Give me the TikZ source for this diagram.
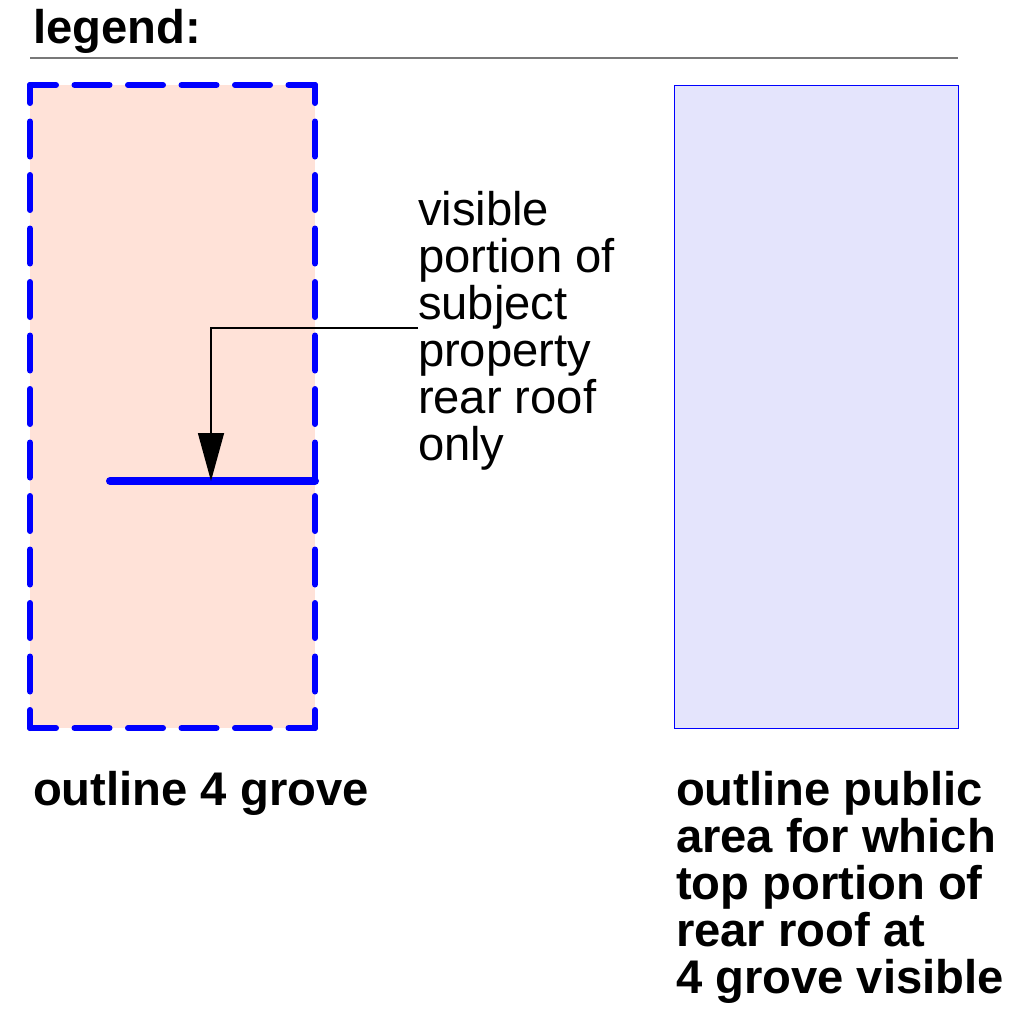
\documentclass[tikz,border=0pt]{standalone}
\usepackage{fontspec}
\setmainfont{Liberation Sans}
\usetikzlibrary{arrows.meta, positioning}

\definecolor{grovefill}{RGB}{255,226,216}
\definecolor{publicfill}{RGB}{228,228,252}
\definecolor{rulegray}{RGB}{120,120,120}

\begin{document}
\begin{tikzpicture}[x=0.5pt, y=-0.5pt,
	every node/.style={font=\fontsize{23.6}{23.5}\selectfont, inner sep=0pt, outer sep=0pt, align=left},
	heading/.style={font=\fontsize{23.6}{23.5}\selectfont\bfseries},
	grovebox/.style={fill=grovefill, minimum width=142.5pt, minimum height=321.5pt, anchor=north west},
	groveedge/.style={blue, line width=3pt, line cap=round, dash pattern=on 17.5pt off 9.25pt},
	publicbox/.style={draw=blue, fill=publicfill, line width=0.5pt, minimum width=142pt, minimum height=321.5pt, anchor=north west},
	roofline/.style={blue, line width=4pt, line cap=round},
	pointer/.style={-{Triangle[length=24pt, width=13pt]}, line width=0.75pt}
	]
	\useasboundingbox (0,0) rectangle (1018,1013);
	
	% Title and rule
	\node[heading, anchor=base west] (legend) at (33,43) {legend:};
	\coordinate (ruleleft) at (30,58);
	\coordinate (ruleright) at (958,58);
	\draw[rulegray, line width=0.75pt] (ruleleft) -- (ruleright);
	
	% Boxes
	\node[grovebox] (grove) at (30,85) {};
	\draw[groveedge, dash phase=4.5pt] (grove.north west) -- (grove.north east);
	\draw[groveedge, dash phase=4.5pt] (grove.south west) -- (grove.south east);
	\draw[groveedge, dash phase=8.5pt] (grove.north west) -- (grove.south west);
	\draw[groveedge, dash phase=8.5pt] (grove.north east) -- (grove.south east);
	\node[publicbox] (public) at (674,85) {};
	
	% Visible roof portion
	\coordinate (roofleft) at (110,481);
	\coordinate (roofmid) at (211,481);
	\coordinate (roofright) at (315,481);
	\draw[roofline] (roofleft) -- (roofright);
	
	% Note with pointer
	\node[anchor=north west] (roofnote) at (418,191)
	{visible\\portion of\\subject\\property\\rear roof\\only};
	\coordinate (noteend) at (418,328);
	\draw[pointer] (noteend) -| (roofmid);
	
	% Captions
	\node[heading, anchor=north west] (grovecap) at (33,771) {outline 4 grove};
	\node[heading, anchor=north west] (publiccap) at (676,771)
	{outline public\\area for which\\top portion of\\rear roof at\\4 grove visible};
	
\end{tikzpicture}
\end{document}
